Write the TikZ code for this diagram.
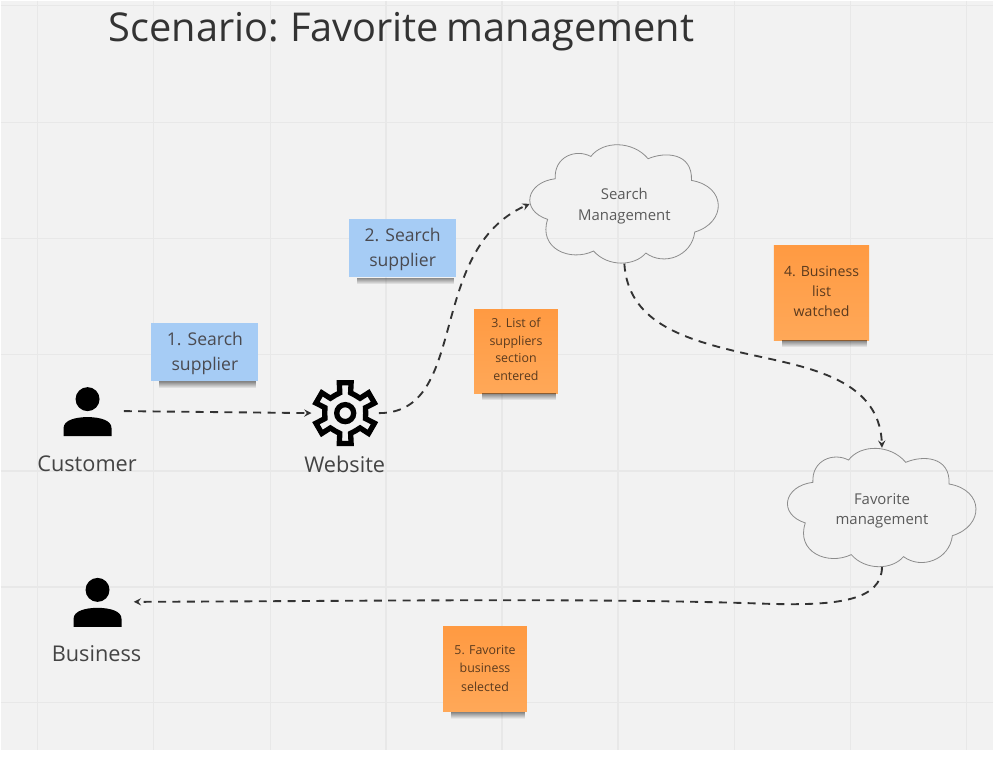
\documentclass[tikz,border=0pt]{standalone}
\usepackage{fontspec}
\setmainfont{Open Sans}
\usetikzlibrary{fadings}
\definecolor{boardbg}{HTML}{F2F2F2}
\definecolor{gridline}{HTML}{E8E8E8}
\definecolor{stickyblue}{HTML}{A6CCF5}
\definecolor{stickyorange}{HTML}{FF9A42}
\definecolor{stickyorangelow}{HTML}{FFA858}
\definecolor{inkdark}{HTML}{444444}
\definecolor{inkcloud}{HTML}{5A5A5A}
\definecolor{inksticky}{HTML}{4A4A50}
\definecolor{inkorange}{HTML}{5A3A1E}
%Stacked lines, moved up or down without moving the box around them
\newcommand{\movedtext}[2]{\raisebox{#1}[\height][\depth]{\begin{tabular}{@{}c@{}}#2\end{tabular}}}
\begin{document}
\begin{tikzpicture}
  [
    x=0.75pt, y=-0.75pt,
    >=stealth,
    iconbox/.style = {inner sep = 0pt, minimum height = 51pt},
    iconname/.style = {text = inkdark, font = \fontsize{16.3}{18}\selectfont},
    cloudbox/.style = {inner sep = 0pt, minimum width = 141.75pt, minimum height = 89.25pt, text = inkcloud, font = \fontsize{11.2}{15.2}\selectfont},
    blue/.style   = {fill = stickyblue, inner sep = 0pt, minimum width = 80.25pt, minimum height = 43.5pt, text = inksticky, font = \fontsize{13.2}{18.6}\selectfont},
    orange/.style = {top color = stickyorange, bottom color = stickyorangelow, inner sep = 0pt, text = inkorange},
    flow/.style   = {->, draw = black!80, line width = 1.4pt, dash pattern = on 6pt off 4.8pt},
    person/.pic = {
      \fill (0,-12) circle [radius=12];
      \fill (-24,25) -- (-24,17) .. controls (-24,9) and (-12,6) .. (0,6) .. controls (12,6) and (24,9) .. (24,17) -- (24,25) -- cycle;
    },
    cloudline/.pic = {
      \draw[draw = black!45, line width = 0.6pt] (25.3,34.3)
        .. controls (24,12) and (46,4) .. (61,12)
        .. controls (73,-4) and (103,-4) .. (118.3,14.3)
        .. controls (135,7) and (163,8) .. (161.7,36)
        .. controls (197,42) and (197,78) .. (165,87.7)
        .. controls (162,112) and (134,122) .. (116,108.7)
        .. controls (105,122) and (78,123) .. (63.7,106.7)
        .. controls (40,118) and (8,104) .. (17.7,75)
        .. controls (-10,66) and (-4,38) .. (25.3,34.3) -- cycle;
    },
  ]

%Page and board
\fill[white] (0,0) rectangle (994,766);
\fill[boardbg] (0,0) rectangle (994,750);

%Grid of the board
\foreach \i in {37,153,270,386,502,618,735,851,967}
{
\draw[gridline, line width = 1pt] (\i,0) -- (\i,750);
}
\foreach \j in {5,122,238,354,471,587,703}
{
\draw[gridline, line width = 1pt] (0,\j) -- (994,\j);
}

%Title
\node[anchor = west, inner sep = 0pt, text = black!80, font = \fontsize{29.85}{36}\selectfont] (title) at (108,31) {\spaceskip=.19em Scenario: Favorite management};

%Actors
\pic at (87,411) {person};
\pic at (97,602) {person};
\node[iconbox, minimum width = 54pt] (customer) at (87,411) {};
\node[iconbox, minimum width = 54pt] (business) at (97,602) {};
\node[iconname] (customerName) at (86.5,464) {Customer};
\node[iconname] (businessName) at (96,654) {Business};

%Website gear
\begin{scope}[shift = {(345,413)}]
\draw[line width = 4pt, line join = miter]
  \foreach \a in {90,30,-30,-90,-150,150}
  { (\a+30:20.5) -- (\a+15:21) -- (\a+11:31) -- (\a-11:31) -- (\a-15:21) -- (\a-30:20.5) };
\draw[line width = 4pt] (0,0) circle [radius=8.5];
\end{scope}
\node[iconbox, minimum width = 50.25pt] (website) at (345,413) {};
\node[iconname] (websiteName) at (344.5,464) {Website};

%Clouds
\pic at (530,144) {cloudline};
\pic at (788,448) {cloudline};
\node[cloudbox] (search) at (624.5,203.5) {\movedtext{-1.5pt}{Search\\Management}};
\node[cloudbox] (favorite) at (882.5,507.5) {\movedtext{-2pt}{Favorite\\management}};

%Sticky notes
\node[blue] (noteA) at (204.5,352) {\movedtext{-.5pt}{1. Search\\supplier}};
\node[blue] (noteB) at (402.5,248) {\movedtext{-.5pt}{2. Search\\supplier}};
\node[orange, minimum width = 63pt, minimum height = 63pt, font = \fontsize{9.3}{13.2}\selectfont] (noteC) at (516,351) {\movedtext{.6pt}{3. List of\\suppliers\\section\\entered}};
\node[orange, minimum width = 71.5pt, minimum height = 71.25pt, font = \fontsize{10.6}{14.8}\selectfont] (noteD) at (822,292.5) {\movedtext{.2pt}{4. Business\\list\\watched}};
\node[orange, minimum width = 63pt, minimum height = 63.75pt, font = \fontsize{9.3}{13.6}\selectfont] (noteE) at (485,669.5) {\movedtext{0pt}{5. Favorite\\business\\selected}};

%Soft shadow under each sticky note
\foreach \note in {noteA,noteB,noteC,noteD,noteE}
{
\fill[black, opacity = 0.45, path fading = south] ([xshift=6pt]\note.south west) rectangle ([xshift=-2pt,yshift=-5pt]\note.south east);
}

%Connectors
\draw[flow] (customer.east) -- (website.west);
\draw[flow] (website.east) .. controls (470,413) and (425,250) .. (search.west);
\draw[flow] (search.south) .. controls (628,320) and (680,338) .. (740,352) .. controls (800,366) and (880,375) .. (favorite.north);
\draw[flow] (favorite.south) .. controls (882,600) and (840,606) .. (770,604) .. controls (600,598) and (400,601) .. (business.east);
\end{tikzpicture}
\end{document}
